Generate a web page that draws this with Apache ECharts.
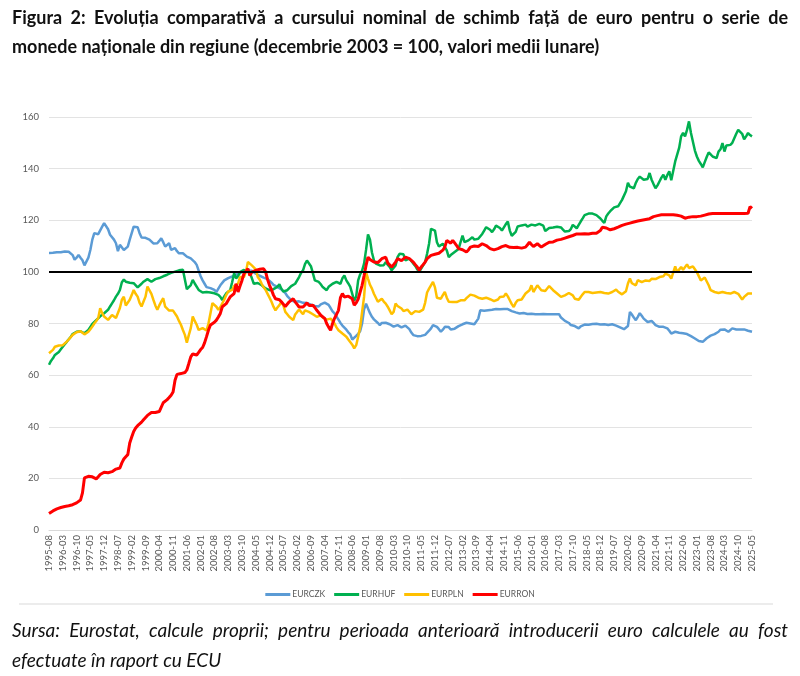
<!DOCTYPE html>
<html><head><meta charset="utf-8">
<script src="https://cdn.jsdelivr.net/npm/echarts@6/dist/echarts.min.js"></script>
<style>html,body{margin:0;padding:0;background:#fff}#c{width:800px;height:676px}</style>
</head><body><div id="c"></div>
<script>
// Monthly categories 1995-08 .. 2025-05
const firstYear = 1995, firstMonth = 8, monthCount = 358;
const categories = [];
for (let i = 0; i < monthCount; i++) {
  const t = firstYear * 12 + firstMonth - 1 + i;
  categories.push(Math.floor(t / 12) + '-' + String(t % 12 + 1).padStart(2, '0'));
}
const seriesNames = ['EURCZK', 'EURHUF', 'EURPLN', 'EURRON'];
const yTicks = [0, 20, 40, 60, 80, 100, 120, 140, 160];
const baseLevel = 100;
const titleLines = [
  'Figura 2: Evoluția comparativă a cursului nominal de schimb față de euro pentru o serie de',
  'monede naționale din regiune (decembrie 2003 = 100, valori medii lunare)'
];
const sourceLines = [
  'Sursa: Eurostat, calcule proprii; pentru perioada anterioară introducerii euro calculele au fost',
  'efectuate în raport cu ECU'
];

const eurczk = [
107.3,107.6,107.4,107.8,107.6,
107.9,107.6,107.8,107.9,107.7,107.8,107.9,106.5,104.7,105.5,106.6,105.5,
104.5,102.5,102.0,105.5,108.5,112.5,115.0,114.4,114.6,115.0,117.5,118.9,
118.9,116.5,114.4,113.7,112.5,111.1,108.0,110.5,111.1,108.5,107.9,109.8,
112.5,115.0,117.5,117.8,117.3,115.0,113.3,112.7,113.2,113.4,112.5,111.8,
111.0,110.5,111.1,112.0,113.0,111.5,109.8,110.5,111.1,108.5,108.2,109.2,
108.0,107.2,107.2,107.2,106.5,105.9,105.6,105.2,104.7,103.8,102.7,100.5,
98.3,96.7,95.4,94.1,93.5,93.7,94.1,93.0,92.2,93.5,94.8,95.5,
96.7,97.2,97.6,98.0,98.2,98.6,98.9,99.2,99.5,100.0,100.4,100.0,
100.5,100.7,100.4,99.8,99.3,98.9,98.5,98.0,97.8,97.5,97.2,96.9,
95.8,95.0,94.8,94.2,94.0,93.2,92.6,91.8,90.6,89.8,89.0,88.6,
88.4,88.2,88.6,88.7,88.0,87.7,87.9,88.0,87.3,87.1,86.8,86.4,
86.6,87.4,87.8,88.1,88.4,87.2,86.0,84.7,83.9,83.2,81.5,80.2,
79.2,78.4,77.6,76.6,75.8,73.8,73.5,75.2,76.0,77.0,80.0,85.5,
87.7,85.8,84.0,82.6,81.6,81.3,80.2,79.4,80.2,80.6,80.3,80.0,
79.7,79.4,78.8,78.5,79.4,79.4,78.5,78.0,79.2,79.6,77.8,76.5,
75.5,75.6,75.1,75.0,75.2,75.1,75.6,76.1,77.2,78.1,79.4,78.9,
78.7,77.8,76.8,77.6,78.7,79.4,78.6,77.7,77.4,78.0,78.5,79.0,
79.3,79.7,80.0,80.3,80.2,80.0,80.1,79.7,79.4,81.9,85.1,84.9,
84.9,85.0,85.1,85.2,85.3,85.4,85.6,85.8,85.5,85.1,85.6,86.2,
85.6,85.1,84.8,84.5,84.3,84.0,83.9,84.0,84.1,83.6,83.7,83.6,
83.8,83.9,83.6,83.7,83.6,83.6,83.7,83.6,83.6,83.7,83.6,83.6,
83.6,83.5,83.6,82.3,81.6,81.0,80.6,80.2,79.4,79.2,79.0,78.6,
78.1,78.9,79.4,79.6,79.0,79.5,80.0,79.8,79.4,79.9,80.3,79.6,
79.5,79.7,79.6,79.4,79.5,79.7,79.6,79.2,79.0,78.5,78.2,77.8,
77.4,79.0,84.5,83.5,82.3,81.3,82.6,84.0,83.0,81.9,81.2,80.6,
80.8,81.0,80.2,79.4,78.9,78.7,79.0,78.7,78.5,78.1,77.2,76.1,
76.4,76.8,76.5,76.4,76.4,76.2,75.9,75.9,75.8,75.1,74.7,74.2,
73.6,73.2,72.7,72.9,73.6,74.3,74.9,75.3,75.5,75.9,76.3,76.8,
77.6,78.1,77.7,77.2,76.8,77.3,78.1,77.9,77.7,78.1,77.7,77.4,
77.7,77.5,77.2,77.0,76.8
];

const eurhuf = [
64.0,65.5,66.5,67.8,68.5,
69.0,70.0,71.0,72.0,72.9,73.6,74.8,75.9,76.3,76.8,77.2,77.0,
76.6,76.2,76.5,77.5,78.7,79.8,80.4,81.3,82.0,82.8,83.4,84.0,
84.7,85.3,86.6,87.8,89.0,90.4,91.5,93.0,96.0,97.0,96.2,95.6,
95.8,96.2,95.6,94.9,94.0,94.6,95.4,96.2,96.8,97.2,96.6,96.2,
96.6,97.2,97.4,97.6,97.9,98.3,98.8,98.9,99.3,99.6,99.9,100.1,
100.4,100.6,100.8,100.8,97.0,93.3,94.0,94.9,96.9,95.5,94.9,93.0,
92.4,92.0,92.0,92.2,92.4,92.0,91.8,91.7,91.4,91.1,90.3,89.1,
90.5,91.7,92.4,92.9,96.0,99.5,97.5,98.3,99.9,100.3,100.8,100.0,
100.8,99.5,97.6,95.4,95.6,95.7,95.2,94.8,94.2,93.6,93.1,92.9,
93.0,93.3,93.5,94.2,95.2,93.5,92.4,92.2,92.9,93.7,94.5,95.2,
95.4,96.0,98.0,99.6,100.6,103.0,104.4,104.0,102.2,99.5,96.7,96.4,
96.1,95.2,94.1,93.5,92.9,94.2,94.8,95.4,95.8,96.1,95.7,95.4,
97.5,98.6,96.7,95.5,94.2,91.5,88.8,90.5,96.7,99.0,100.5,103.2,
108.5,114.5,112.5,107.5,104.5,103.2,102.8,102.5,101.9,102.6,103.8,102.8,
101.9,100.6,99.9,102.5,105.7,107.0,107.0,106.8,104.5,103.8,105.1,104.2,
103.2,102.3,101.0,99.9,101.3,102.5,103.8,107.0,110.9,116.7,116.3,116.0,
111.5,109.8,110.3,110.9,111.5,108.3,105.7,106.5,107.2,107.7,108.2,108.9,
111.5,114.1,111.5,110.9,112.2,112.8,113.4,112.5,112.2,112.8,113.4,114.7,
116.0,117.3,116.6,116.3,115.4,116.5,117.9,118.6,117.0,116.0,116.0,118.5,
119.5,116.0,114.0,113.4,115.5,117.6,118.3,118.0,117.9,118.3,117.5,117.0,
118.3,118.6,118.0,117.9,118.6,118.2,117.9,115.8,116.5,117.0,117.6,117.2,
117.0,117.5,118.2,117.2,116.4,115.6,115.0,115.8,116.6,118.2,117.5,116.9,
118.2,119.5,120.7,122.0,122.6,122.6,122.6,122.6,122.3,122.0,121.3,120.7,
119.8,119.0,121.5,122.6,123.5,124.0,125.0,125.5,125.4,126.0,127.9,128.5,
131.2,134.5,133.0,132.4,132.4,134.5,136.0,136.9,136.3,135.7,135.8,136.0,
138.3,135.7,134.0,132.4,133.5,135.0,136.5,137.6,135.7,137.5,139.0,135.5,
136.0,142.8,143.4,148.0,152.5,153.8,152.5,155.0,158.3,153.8,154.4,147.0,
144.7,143.0,141.8,140.5,142.5,144.5,146.3,145.5,144.7,144.3,144.1,146.6,
147.5,149.9,146.6,149.0,149.2,149.2,150.0,150.5,153.5,155.0,155.7,153.5,
151.4,152.5,153.8,153.0,152.5
];

const eurpln = [
68.5,68.8,69.8,71.0,71.2,
71.5,71.0,71.6,72.3,73.0,73.8,74.5,75.6,76.0,76.6,77.3,77.0,
76.5,75.8,75.6,76.8,77.8,78.8,80.0,81.0,82.1,85.9,84.0,82.7,
82.0,81.4,80.8,83.3,82.7,82.1,82.1,86.0,89.2,90.4,87.0,87.5,
89.2,91.0,93.0,91.5,90.4,88.0,86.6,88.5,90.4,94.3,93.7,91.5,
89.2,87.0,85.3,87.0,88.5,89.8,86.5,85.9,85.0,84.6,85.0,85.3,
82.7,81.0,79.5,77.5,75.6,72.6,75.5,78.2,82.7,81.0,79.5,77.5,
77.5,78.2,77.8,77.3,80.1,84.0,87.9,88.1,86.5,85.3,86.3,87.8,
89.2,91.0,92.4,92.6,93.0,94.5,94.9,95.5,98.0,97.4,98.0,100.0,
103.8,103.8,102.5,101.9,101.0,98.0,97.0,95.4,94.0,93.0,91.5,90.0,
88.4,86.5,85.1,86.2,87.1,88.4,87.0,84.5,83.6,82.6,82.0,81.3,
83.5,84.5,85.4,84.5,83.6,85.1,85.0,84.5,84.0,83.6,83.0,82.6,
82.9,83.2,82.3,81.8,81.5,81.9,81.9,81.0,80.0,78.5,77.4,76.8,
76.1,75.5,74.9,73.8,73.6,71.8,70.4,71.6,74.9,78.5,84.5,90.3,
99.9,97.4,95.0,93.5,91.5,90.9,88.4,89.0,89.6,88.5,87.7,86.5,
85.1,83.6,84.5,87.7,86.8,87.2,85.8,84.8,84.5,85.4,85.0,83.6,
83.6,84.8,85.1,84.5,84.8,85.4,88.0,92.0,93.5,94.1,96.1,94.0,
90.0,89.3,89.6,91.0,92.2,90.0,88.4,88.0,88.3,88.7,88.3,88.0,
89.0,89.0,89.0,89.8,90.5,91.2,91.6,90.8,90.3,90.0,89.6,89.6,
89.8,90.0,89.6,89.4,88.9,88.7,89.0,89.3,90.3,89.6,90.5,91.6,
90.5,89.0,87.5,86.4,88.0,89.0,89.2,89.3,90.0,91.6,91.3,92.9,
94.8,92.2,93.5,94.8,94.1,92.9,92.2,92.6,92.9,94.5,95.2,92.9,
92.4,91.6,91.0,90.3,90.6,90.9,91.4,91.8,91.3,90.9,89.6,89.0,
89.2,90.3,91.3,92.2,92.2,92.2,91.8,91.8,92.2,92.0,91.8,92.2,
92.0,91.8,91.8,91.6,91.8,92.2,92.6,93.1,92.3,91.6,91.3,91.8,
92.5,95.5,97.4,95.6,95.2,94.8,96.8,97.0,96.0,95.6,96.7,96.5,
96.5,97.3,98.0,97.2,96.7,98.0,98.3,98.3,99.3,99.0,98.6,97.4,
97.8,102.1,99.9,99.3,101.9,100.8,101.5,102.9,101.5,100.8,102.1,101.0,
99.9,99.9,96.7,97.4,97.8,98.0,94.8,92.9,92.5,92.2,92.0,91.8,
92.0,92.2,92.0,91.8,91.7,91.6,92.0,92.2,92.6,91.5,90.9,89.3,
90.3,90.8,91.6,91.6,91.6
];

const eurron = [
6.4,7.0,7.4,7.8,8.2,
8.4,8.7,9.0,9.1,9.2,9.4,9.5,9.8,10.1,10.5,10.9,11.6,
14.4,20.2,20.5,20.8,20.7,20.6,20.2,19.8,20.6,21.5,22.0,22.4,
22.4,22.2,22.1,22.6,23.2,23.6,23.8,24.0,26.0,27.5,28.4,29.2,
33.7,36.0,38.2,39.5,40.4,40.8,41.8,42.7,43.4,44.4,45.0,45.5,
45.5,45.5,45.6,45.9,46.2,49.3,50.0,50.5,51.3,52.2,53.5,58.0,
60.3,60.7,60.6,60.7,61.0,62.0,64.5,67.1,68.2,68.0,67.8,68.8,
69.9,70.7,72.5,74.9,77.5,79.4,80.0,80.5,81.3,82.5,83.9,86.5,
87.2,87.7,89.0,90.3,91.0,91.6,95.4,92.2,94.5,96.7,99.3,100.0,
101.2,98.6,99.9,100.2,100.6,100.8,101.0,101.2,101.2,100.0,97.0,94.8,
93.0,91.0,89.6,89.4,89.2,88.4,87.5,86.6,86.8,88.4,89.0,89.6,
88.4,87.4,86.4,86.4,86.4,87.2,88.0,87.0,86.4,87.1,86.2,85.1,
84.2,83.2,82.8,82.0,80.0,78.6,77.4,80.0,82.0,83.5,85.1,90.0,
91.6,90.3,90.9,90.6,90.3,89.6,87.1,88.0,89.5,92.2,94.8,98.5,
102.5,105.7,104.8,104.4,103.8,103.4,103.6,103.8,105.1,105.4,105.7,103.5,
102.8,101.9,102.8,103.8,105.1,104.8,104.4,104.6,105.7,105.4,105.1,104.5,
103.8,102.8,101.9,100.6,101.9,102.8,103.8,105.1,105.8,106.4,106.6,106.8,
107.0,107.2,107.6,108.4,109.6,112.2,111.6,111.1,112.2,111.2,110.2,109.0,
108.3,108.6,108.4,107.7,108.5,109.6,110.2,110.0,109.9,109.8,110.4,110.9,
110.5,110.2,109.6,109.0,108.3,108.5,108.6,109.0,109.6,109.8,110.0,110.2,
110.0,109.5,109.3,109.4,109.6,109.5,109.3,109.2,108.9,109.6,110.5,111.5,
110.6,109.8,110.3,110.9,110.2,109.6,110.1,110.6,111.0,111.5,111.1,111.6,
112.2,112.3,112.4,112.6,112.8,113.1,113.4,113.6,113.7,114.1,114.5,114.7,
114.7,114.7,115.0,114.8,114.5,114.7,114.8,115.0,115.0,115.0,115.4,116.0,
117.3,117.2,117.0,116.6,116.3,116.5,116.7,116.9,117.3,117.6,118.0,118.2,
118.5,118.7,118.9,119.2,119.3,119.5,119.7,119.9,120.0,120.2,120.3,120.4,
120.6,120.9,121.4,121.6,121.8,122.0,122.1,122.1,122.1,122.1,122.1,122.1,
122.1,122.0,121.9,121.8,121.6,121.4,120.8,121.0,121.2,121.4,121.4,121.4,
121.4,121.4,121.6,121.8,122.0,122.2,122.4,122.5,122.6,122.6,122.6,122.6,
122.6,122.6,122.6,122.6,122.6,122.6,122.6,122.6,122.6,122.6,122.6,122.6,
122.6,122.6,122.7,125.3,124.6
];

const colors = ['#5B9BD5', '#00B050', '#FFC000', '#FF0000'];
const values = [eurczk, eurhuf, eurpln, eurron];
const widths = [2.5, 2.5, 2.5, 3];

// Justified text line helper (layout only)
const mctx = document.createElement('canvas').getContext('2d');
function justifiedLine(text, x, y, width, fs, weight, style) {
  mctx.font = style + ' ' + weight + ' ' + fs + 'px Lato';
  const words = text.split(' ');
  const ws = words.map(w => mctx.measureText(w).width);
  const total = ws.reduce((a, b) => a + b, 0);
  const gap = (width - total) / (words.length - 1);
  const out = [];
  let cx = x;
  words.forEach((w, i) => {
    out.push({type: 'text', x: cx, y: y, silent: true, style: {
      text: w, fontFamily: 'Lato', fontSize: fs, fontWeight: weight, fontStyle: style,
      fill: '#111', verticalAlign: 'middle', align: 'left'}});
    cx += ws[i] + gap;
  });
  return out;
}
function plainLine(text, x, y, fs, weight, style) {
  return {type: 'text', x: x, y: y, silent: true, style: {
    text: text, fontFamily: 'Lato', fontSize: fs, fontWeight: weight, fontStyle: style,
    fill: '#111', verticalAlign: 'middle', align: 'left'}};
}

const graphics = [].concat(
  justifiedLine(titleLines[0], 12, 18, 776, 18, 'bold', 'normal'),
  [plainLine(titleLines[1], 12, 47, 18, 'bold', 'normal')],
  [{type: 'line', silent: true, shape: {x1: 19, y1: 604, x2: 773, y2: 604}, style: {stroke: '#d9d9d9', lineWidth: 1}}],
  justifiedLine(sourceLines[0], 12, 631, 776, 19, 'normal', 'italic'),
  [plainLine(sourceLines[1], 12, 661, 19, 'normal', 'italic')]
);

const chart = echarts.init(document.getElementById('c'), null, {renderer: 'canvas'});
chart.setOption({
  animation: false,
  backgroundColor: '#fff',
  grid: {left: 49, right: 48, top: 117, bottom: 146},
  legend: {
    data: seriesNames, top: 585, left: 'center', icon: 'rect',
    itemWidth: 25, itemHeight: 3, itemGap: 9,
    textStyle: {fontFamily: 'Lato', fontSize: 8.5, color: '#595959', padding: [0, 0, 0, -3]}
  },
  xAxis: {
    type: 'category', data: categories, boundaryGap: false,
    axisLine: {lineStyle: {color: '#d9d9d9'}},
    axisTick: {show: false},
    axisLabel: {interval: 6, rotate: 90, fontSize: 9.5, color: '#595959', margin: 5, fontFamily: 'Lato'},
    splitLine: {show: false}
  },
  yAxis: {
    type: 'value', min: yTicks[0], max: yTicks[yTicks.length - 1], interval: 20,
    axisLine: {show: false}, axisTick: {show: false},
    axisLabel: {fontSize: 9.5, color: '#595959', margin: 10, fontFamily: 'Lato'},
    splitLine: {lineStyle: {color: '#e3e3e3', width: 1}}
  },
  series: seriesNames.map((name, i) => {
    const s = {
      name, type: 'line', data: values[i], symbol: 'none', smooth: false,
      lineStyle: {color: colors[i], width: widths[i]}, itemStyle: {color: colors[i]}
    };
    if (i === 0) {
      s.markLine = {
        silent: true, symbol: ['none', 'none'], label: {show: false},
        lineStyle: {color: '#000', width: 2, type: 'solid'},
        data: [{yAxis: baseLevel}]
      };
    }
    return s;
  }),
  graphic: graphics
});
</script></body></html>
